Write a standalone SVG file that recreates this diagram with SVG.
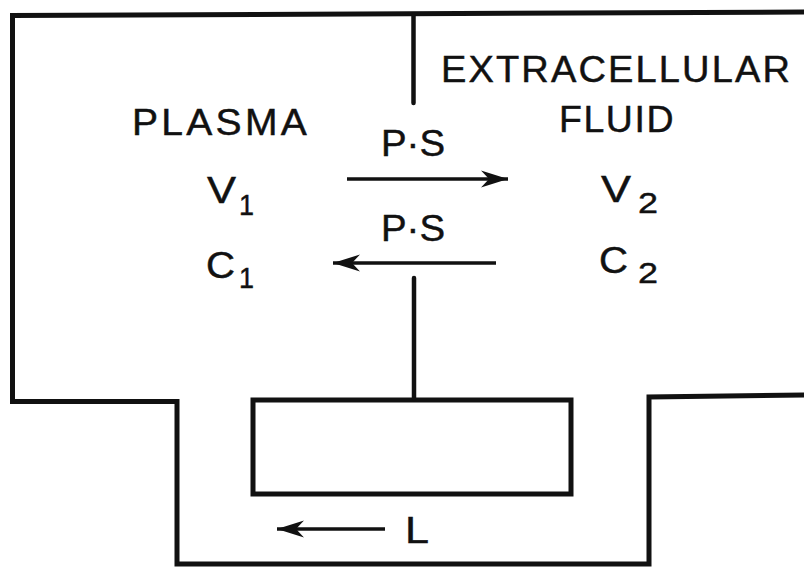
<svg xmlns="http://www.w3.org/2000/svg" width="804" height="567" viewBox="0 0 804 567">
<style>
  .wall { fill: none; stroke: #111; stroke-width: 5; stroke-linejoin: miter; stroke-linecap: square; }
  .div { fill: none; stroke: #111; stroke-width: 4.5; stroke-linecap: round; }
  .arr { fill: none; stroke: #111; stroke-width: 3.4; }
  text { font-family: "Liberation Sans", Arial, Helvetica, sans-serif; fill: #111; stroke: #111; stroke-width: 0.45; }
  .lab { font-size: 36px; }
  .sub { font-size: 30px; }
</style>
<defs>
  <marker id="ah" markerUnits="userSpaceOnUse" markerWidth="30" markerHeight="22" refX="27" refY="10" orient="auto">
    <path d="M0,1.5 L27,10 L0,18.5 L8,10 Z" fill="#111"/>
  </marker>
</defs>
<rect width="804" height="567" fill="#fff"/>
<g id="compartments">
  <path class="wall" d="M804,12 L12.5,15.5 L12.5,401.5 L177,401.5 L177,564 L649,564 L649,397 L804,395"/>
</g>
<g id="capillary">
  <rect class="wall" x="253" y="400" width="318" height="94"/>
</g>
<g id="membrane">
  <line class="div" x1="413.5" y1="15" x2="413.5" y2="103"/>
  <line class="div" x1="414" y1="278" x2="414" y2="399"/>
</g>
<g id="plasma">
  <text class="lab" x="132" y="135" letter-spacing="3" textLength="178" lengthAdjust="spacingAndGlyphs">PLASMA</text>
  <text class="lab" x="207" y="203" textLength="29" lengthAdjust="spacingAndGlyphs">V</text>
  <text class="sub" x="239" y="215" textLength="15" lengthAdjust="spacingAndGlyphs">1</text>
  <text class="lab" x="206" y="278" textLength="29" lengthAdjust="spacingAndGlyphs">C</text>
  <text class="sub" x="239" y="288" textLength="15" lengthAdjust="spacingAndGlyphs">1</text>
</g>
<g id="extracellular">
  <text class="lab" x="441" y="82" letter-spacing="2" textLength="351" lengthAdjust="spacingAndGlyphs">EXTRACELLULAR</text>
  <text class="lab" x="559" y="132" letter-spacing="1.5" textLength="116" lengthAdjust="spacingAndGlyphs">FLUID</text>
  <text class="lab" x="601" y="202" textLength="30" lengthAdjust="spacingAndGlyphs">V</text>
  <text class="sub" x="638" y="213" textLength="20" lengthAdjust="spacingAndGlyphs">2</text>
  <text class="lab" x="599" y="273" textLength="29" lengthAdjust="spacingAndGlyphs">C</text>
  <text class="sub" x="638" y="283" textLength="20" lengthAdjust="spacingAndGlyphs">2</text>
</g>
<g id="connectors">
  <line class="arr" x1="347" y1="179" x2="508" y2="179" marker-end="url(#ah)"/>
  <text class="lab" x="381" y="156" font-size="35" textLength="64" lengthAdjust="spacingAndGlyphs">P·S</text>
  <line class="arr" x1="496" y1="263" x2="333" y2="263" marker-end="url(#ah)"/>
  <text class="lab" x="381" y="241" font-size="35" textLength="64" lengthAdjust="spacingAndGlyphs">P·S</text>
  <line class="arr" x1="385" y1="529" x2="277" y2="529" marker-end="url(#ah)"/>
  <text class="lab" x="405" y="543" textLength="24" lengthAdjust="spacingAndGlyphs">L</text>
</g>
</svg>
